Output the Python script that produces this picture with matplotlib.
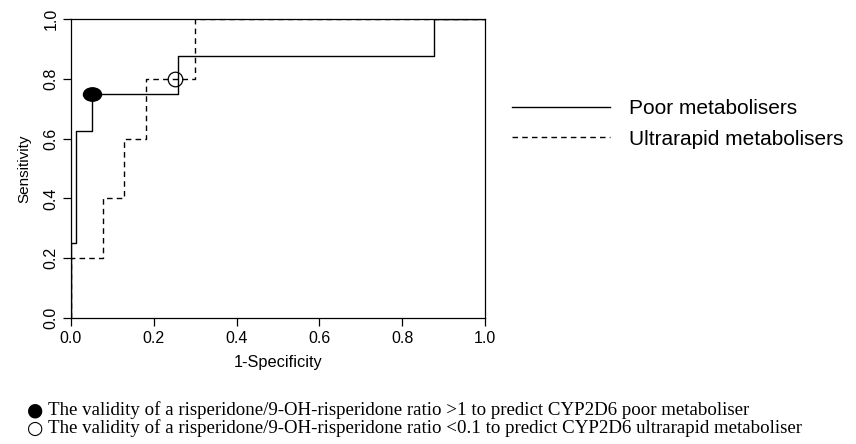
import numpy as np
import matplotlib
matplotlib.use("Agg")
import matplotlib.pyplot as plt
from matplotlib.path import Path
from matplotlib.transforms import Affine2D

# ROC curve corners
poor_fpr = [0.0, 0.0, 0.013, 0.013, 0.05, 0.05, 0.258, 0.258, 0.877, 0.877, 1.0]
poor_tpr = [0.0, 0.25, 0.25, 0.625, 0.625, 0.75, 0.75, 0.875, 0.875, 1.0, 1.0]

ultra_fpr = [0.0, 0.0, 0.077, 0.077, 0.129, 0.129, 0.181, 0.181, 0.3, 0.3, 1.0]
ultra_tpr = [0.0, 0.2, 0.2, 0.4, 0.4, 0.6, 0.6, 0.8, 0.8, 1.0, 1.0]

# cut-off points
poor_cut = (0.05, 0.75)
ultra_cut = (0.25, 0.8)

ticks = [0.0, 0.2, 0.4, 0.6, 0.8, 1.0]
tick_labels = ["0.0", "0.2", "0.4", "0.6", "0.8", "1.0"]
series_names = ["Poor metabolisers", "Ultrarapid metabolisers"]
notes = [
    "The validity of a risperidone/9-OH-risperidone ratio >1 to predict CYP2D6 poor metaboliser",
    "The validity of a risperidone/9-OH-risperidone ratio <0.1 to predict CYP2D6 ultrarapid metaboliser",
]

sans = ["Liberation Sans", "DejaVu Sans"]
serif = ["Liberation Serif", "DejaVu Serif"]

fig = plt.figure(figsize=(8.56, 4.44), dpi=100)
ax = fig.add_axes([71 / 856, 1 - 318 / 444, 414 / 856, 299 / 444])

dash = (0, (4, 3))
l1, = ax.plot(poor_fpr, poor_tpr, color="black", lw=1.0)
l2, = ax.plot(ultra_fpr, ultra_tpr, color="black", lw=1.0, linestyle=dash)

# slightly wide filled dot
oval = Path.unit_circle().transformed(Affine2D().scale(1.35, 1.0))
ax.plot(*poor_cut, marker=oval, markersize=13, color="black", clip_on=False)
ax.plot(*ultra_cut, marker="o", markersize=10.5, markerfacecolor="none",
        markeredgecolor="black", markeredgewidth=0.9)

ax.set_xlim(0, 1)
ax.set_ylim(0, 1)
ax.set_xticks(ticks)
ax.set_xticklabels(tick_labels, family=sans, fontsize=11.5)
ax.set_yticks(ticks)
ax.set_yticklabels(tick_labels, family=sans, fontsize=11.5, rotation=90, va="center")
ax.tick_params(direction="out", length=6, width=0.9, pad=3)
ax.tick_params(axis="y", pad=3)
for s in ax.spines.values():
    s.set_linewidth(0.9)

ax.set_xlabel("1-Specificity", family=sans, fontsize=11.8, labelpad=7)
ax.set_ylabel("Sensitivity", family=sans, fontsize=11, labelpad=9)

fig.legend([l1, l2], series_names, loc="center left",
           bbox_to_anchor=(504 / 856, 1 - 124 / 444), frameon=False,
           borderaxespad=0, handlelength=4.7, handletextpad=0.9,
           labelspacing=0.55, prop={"family": sans, "size": 15})

fig.text(27 / 856, 1 - 410 / 444, "\u25cf", family=["DejaVu Sans"], fontsize=13.5, va="center")
fig.text(27 / 856, 1 - 428 / 444, "\u25cb", family=["DejaVu Sans"], fontsize=13.5, va="center")
fig.text(48 / 856, 1 - 410 / 444, notes[0], family=serif, fontsize=13.6, va="center")
fig.text(48 / 856, 1 - 428 / 444, notes[1], family=serif, fontsize=13.6, va="center")

fig.savefig("out.png", dpi=100)
